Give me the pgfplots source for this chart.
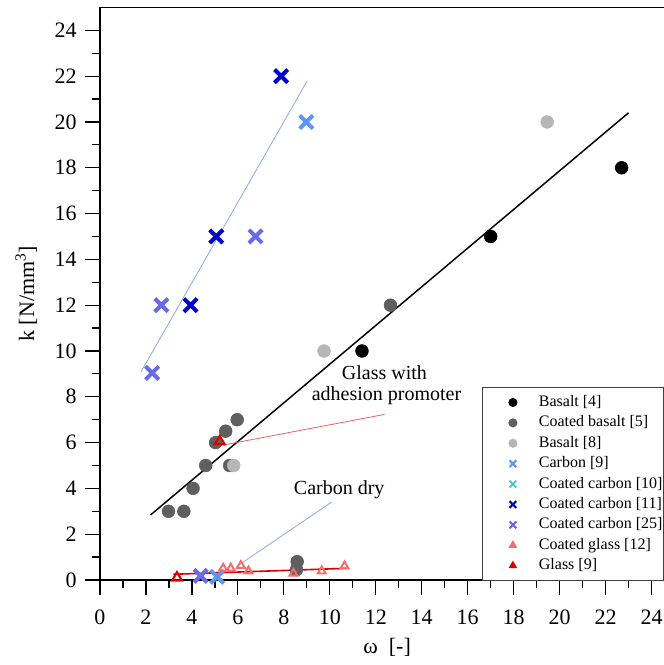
\documentclass[border=0pt]{standalone}
\usepackage{fontspec}
\setmainfont{Liberation Serif}
\usepackage{pgfplots}
\pgfplotsset{compat=1.18}
\usetikzlibrary{calc}

\definecolor{basA}{RGB}{0,0,0}
\definecolor{basB}{RGB}{95,95,95}
\definecolor{basC}{RGB}{182,182,182}
\definecolor{carA}{RGB}{90,150,245}
\definecolor{carB}{RGB}{40,200,220}
\definecolor{carC}{RGB}{0,0,205}
\definecolor{carD}{RGB}{105,105,235}
\definecolor{glaA}{RGB}{240,110,110}
\definecolor{glaB}{RGB}{220,0,0}
\definecolor{fitblue}{RGB}{135,170,230}
\definecolor{fitred}{RGB}{235,95,95}

\pgfplotsset{
  lgimg/.style={legend image code/.code={%
      \path[draw=none, fill=none] (0pt,0pt) -- (42pt,0pt);
      \draw[##1] plot coordinates {(23pt,0pt)};}},
}

\begin{document}
\begin{tikzpicture}
\begin{axis}[
    name=ax,
    scale only axis,
    width=422.25pt, height=429.4pt,
    xmin=0, xmax=24.5, ymin=0, ymax=25,
    axis x line*=bottom, axis y line*=left,
    axis line style={line width=0.9pt, -},
    xtick={0,2,...,24}, ytick={0,2,...,24},
    minor xtick={1,3,...,23}, minor ytick={1,3,...,23},
    tick align=outside,
    major tick length=11pt, minor tick length=6pt,
    tick style={line width=0.9pt, black},
    ticklabel style={font=\fontsize{16.5}{18}\selectfont},
    xticklabel style={yshift=-8pt},
    yticklabel style={xshift=-3pt},
    /pgf/number format/assume math mode=true,
    xlabel={ω\ \ [-]}, ylabel={k [N/mm\textsuperscript{3}]},
    label style={font=\fontsize{16.5}{18}\selectfont},
    xlabel style={at={(axis description cs:0.51,-0.117)}, anchor=center},
    ylabel style={at={(axis description cs:-0.131,0.5)}, anchor=center},
    clip=false,
    legend cell align=left,
    legend style={at={(axis description cs:0.678,0.3366)}, anchor=north west,
      font=\fontsize{12}{14}\selectfont, draw=black!75, line width=0.8pt,
      inner xsep=0pt, inner ysep=4.5pt, row sep=2.3pt,
      nodes={inner sep=0.5pt, text height=9pt, text depth=3pt}},
  ]
  % fit lines
  \addplot[forget plot, black, line width=1.1pt] coordinates {(2.2,2.84) (23.0,20.4)};
  \addplot[forget plot, fitblue, line width=0.6pt] coordinates {(1.78,9.08) (9.02,21.8)};
  \addplot[forget plot, glaB, line width=1.2pt] coordinates {(3.19,0.25) (10.72,0.51)};
  % leader lines
  \draw[fitred, line width=0.6pt] (axis cs:5.4,5.9) -- (axis cs:12.38,7.23);
  \draw[fitblue, line width=0.6pt] (axis cs:10.09,3.41) -- (axis cs:5.95,0.59);

  % Basalt [4]
  \addplot[forget plot, only marks, mark=*, mark size=4.8pt, basA] coordinates {
    (11.4,10) (17.0,15) (22.7,18)};
  % Coated basalt [5]
  \addplot[forget plot, only marks, mark=*, mark size=4.8pt, basB] coordinates {
    (12.64,12) (5.97,7) (5.47,6.5) (5.03,6) (4.6,5) (5.64,5) (4.05,4)
    (2.98,3) (3.65,3) (8.58,0.8) (8.55,0.45)};
  % Basalt [8]
  \addplot[forget plot, only marks, mark=*, mark size=4.8pt, basC] coordinates {
    (19.46,20) (9.75,10) (5.82,5)};
  % Carbon [9]
  \addplot[forget plot, only marks, mark=x, mark size=7pt, line width=3pt, carA] coordinates {
    (8.98,20) (5.1,0.14)};
  % Coated carbon [11]
  \addplot[forget plot, only marks, mark=x, mark size=7pt, line width=3pt, carC] coordinates {
    (7.88,22) (5.06,15) (3.94,12)};
  % Coated carbon [25]
  \addplot[forget plot, only marks, mark=x, mark size=7pt, line width=3pt, carD] coordinates {
    (2.67,12) (6.77,15) (2.27,9.04) (4.38,0.18)};
  % Coated glass [12]
  \addplot[forget plot, only marks, mark=triangle, mark size=3.4pt, line width=1.5pt, glaA,
    mark options={fill=white}] coordinates {
    (5.36,0.51) (5.69,0.51) (6.13,0.63) (6.46,0.39) (8.42,0.29) (9.65,0.39) (10.64,0.61)};
  % Glass [9]
  \addplot[forget plot, only marks, mark=triangle, mark size=4.2pt, line width=1.6pt, glaB,
    mark options={fill=white}] coordinates {
    (3.35,0.1) (5.21,6.05)};

  % top frame line
  \draw[line width=0.9pt] (rel axis cs:0,1) -- (rel axis cs:1.1,1);

  % annotations
  \node[font=\fontsize{15}{17}\selectfont] at (axis cs:12.38,9.04) {Glass with};
  \node[font=\fontsize{15}{17}\selectfont] at (axis cs:12.47,8.03) {adhesion promoter};
  \node[font=\fontsize{15}{17}\selectfont] at (axis cs:10.41,3.96) {Carbon dry};

  % legend
  \addlegendimage{only marks, mark=*, mark size=3pt, basA, lgimg}
  \addlegendentry{Basalt [4]}
  \addlegendimage{only marks, mark=*, mark size=3pt, basB, lgimg}
  \addlegendentry{Coated basalt [5]}
  \addlegendimage{only marks, mark=*, mark size=3pt, basC, lgimg}
  \addlegendentry{Basalt [8]}
  \addlegendimage{only marks, mark=x, mark size=3.6pt, line width=1.6pt, carA, lgimg}
  \addlegendentry{Carbon [9]}
  \addlegendimage{only marks, mark=x, mark size=3.6pt, line width=1.2pt, carB, lgimg}
  \addlegendentry{Coated carbon [10]}
  \addlegendimage{only marks, mark=x, mark size=3.6pt, line width=1.6pt, carC, lgimg}
  \addlegendentry{Coated carbon [11]}
  \addlegendimage{only marks, mark=x, mark size=3.6pt, line width=1.6pt, carD, lgimg}
  \addlegendentry{Coated carbon [25]}
  \addlegendimage{only marks, mark=triangle*, mark size=3pt, glaA, lgimg}
  \addlegendentry{Coated glass [12]}
  \addlegendimage{only marks, mark=triangle*, mark size=3pt, glaB, lgimg}
  \addlegendentry{Glass [9]}
\end{axis}
\pgfresetboundingbox
\path[use as bounding box] ($(ax.south west)+(-75pt,-63.75pt)$) rectangle ($(ax.north east)+(0pt,5.6pt)$);
\end{tikzpicture}
\end{document}
